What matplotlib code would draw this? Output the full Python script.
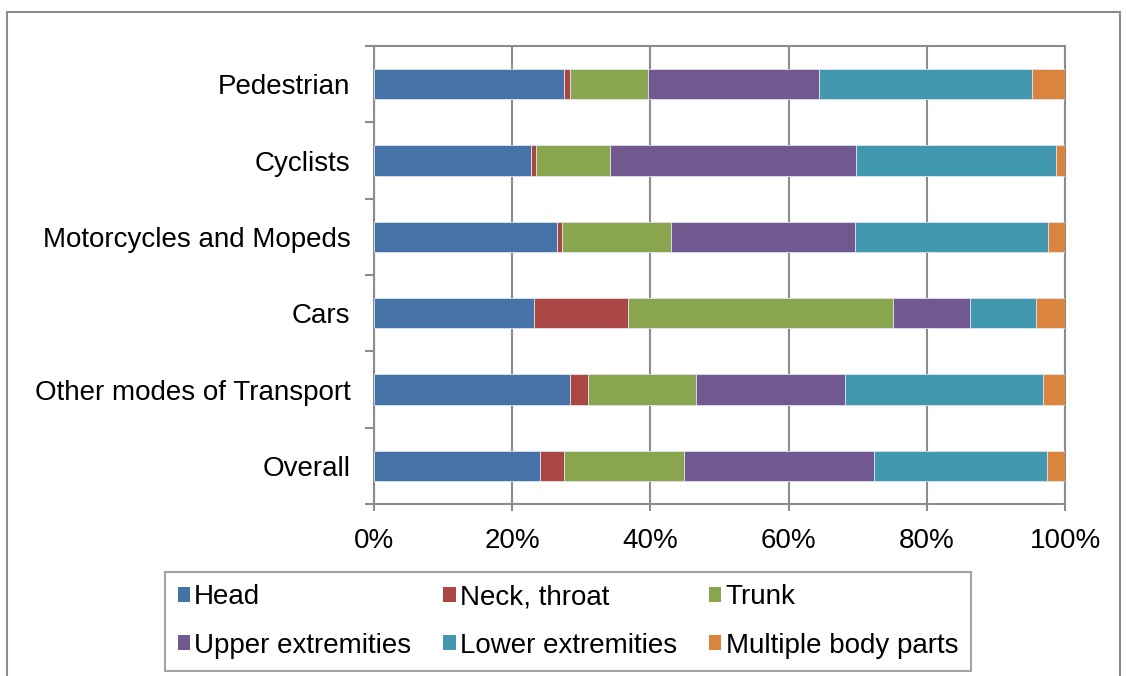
import numpy as np
import matplotlib
matplotlib.use("Agg")
import matplotlib.pyplot as plt
from matplotlib.patches import Patch, Rectangle
from matplotlib.ticker import FixedLocator, PercentFormatter

plt.rcParams['font.family'] = ['Liberation Sans', 'DejaVu Sans']

modes = ["Pedestrian", "Cyclists", "Motorcycles and Mopeds", "Cars",
         "Other modes of Transport", "Overall"]
parts = ["Head", "Neck, throat", "Trunk",
         "Upper extremities", "Lower extremities", "Multiple body parts"]

# share of injuries (%) per mode
head = [27.5, 22.7, 26.5, 23.2, 28.4, 24.0]
neck = [0.9, 0.7, 0.75, 13.6, 2.5, 3.5]
trunk = [11.2, 10.8, 15.7, 38.3, 15.7, 17.3]
upper = [24.75, 35.5, 26.65, 11.2, 21.5, 27.6]
lower = [30.85, 29.0, 28.0, 9.5, 28.7, 25.0]
multiple = [4.8, 1.3, 2.4, 4.2, 3.2, 2.6]

colors = ["#4572A7", "#AA4643", "#89A54E", "#71588F", "#4198AF", "#DB843D"]
grey = "#8c8c8c"
fs = 20

fig = plt.figure(figsize=(11.26, 6.76), dpi=100)
ax = fig.add_axes([374 / 1126, 1 - 504 / 676, (1065 - 374) / 1126, (504 - 46) / 676])

data = np.array([head, neck, trunk, upper, lower, multiple])
data = data / data.sum(axis=0) * 100
y = np.arange(len(modes))
left = np.zeros(len(modes))
for vals, name, c in zip(data, parts, colors):
    ax.barh(y, vals, left=left, height=0.4, color=c, label=name,
            edgecolor="#dde3ec", linewidth=0.6, zorder=3)
    left += vals

ax.set_xlim(0, 100)
ax.set_ylim(len(modes) - 0.5, -0.5)
ax.set_xticks(np.arange(0, 101, 20))
ax.xaxis.set_major_formatter(PercentFormatter(decimals=0))
ax.set_yticks(y)
ax.set_yticklabels(modes)
ax.yaxis.set_minor_locator(FixedLocator(np.arange(-0.5, len(modes), 1)))
ax.tick_params(axis='y', which='major', length=0, pad=17, labelsize=fs)
ax.tick_params(axis='y', which='minor', length=6.5, width=1.5, color=grey)
ax.tick_params(axis='x', length=5, width=1.5, color=grey, pad=12, labelsize=fs)
ax.grid(axis='x', color=grey, linewidth=1.5, zorder=0)
for s in ax.spines.values():
    s.set_color(grey)
    s.set_linewidth(1.5)

# legend fills column by column, so reorder to read row by row
order = [0, 3, 1, 4, 2, 5]
handles = [Patch(facecolor=colors[i], edgecolor='none') for i in order]
labels = [parts[i] for i in order]
leg = fig.legend(handles, labels, loc='upper left',
                 bbox_to_anchor=(165 / 1126, 1 - 572 / 676), ncol=3,
                 fontsize=fs, frameon=True, fancybox=False,
                 handlelength=0.45, handleheight=0.45, handletextpad=0.15,
                 columnspacing=1.15, labelspacing=0.8, borderpad=0.45,
                 borderaxespad=0)
leg.get_frame().set_edgecolor(grey)
leg.get_frame().set_linewidth(1.5)

fig.patches.append(Rectangle((7 / 1126, -0.05), (1120 - 7) / 1126, 1.05 - 12 / 676,
                             transform=fig.transFigure, fill=False,
                             edgecolor=grey, linewidth=1.5))

fig.savefig("out.png", dpi=100)
